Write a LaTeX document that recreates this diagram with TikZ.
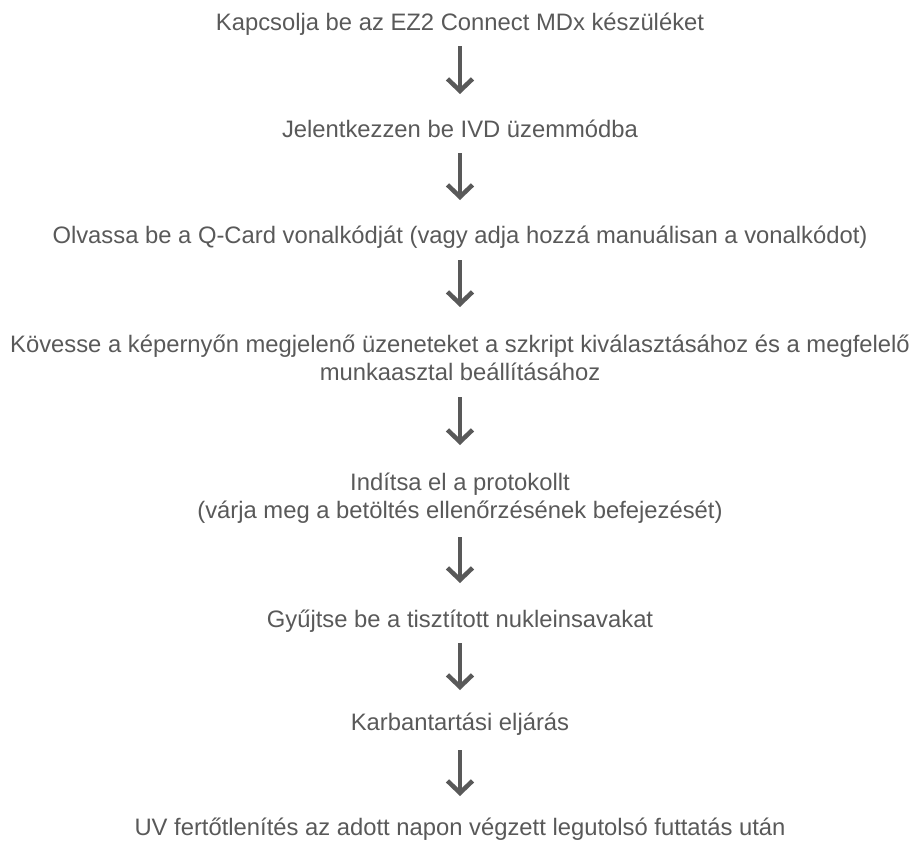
\documentclass[tikz,border=0pt]{standalone}
\usepackage{fontspec}
\setmainfont{Liberation Sans}
\usetikzlibrary{arrows.meta}
\definecolor{stepgray}{HTML}{595959}

\begin{document}
\begin{tikzpicture}[x=1pt, y=-1pt,
        stepnode/.style={anchor=base, align=center, text=stepgray, inner sep=0pt,
            font=\fontsize{23.8}{28}\selectfont},
        flow/.style={draw=stepgray, line width=3.5pt,
            -{Straight Barb[length=12pt, width=25pt, line width=4.5pt, line join=miter]}}]
        \useasboundingbox (0,0) rectangle (919,846);

        % steps
        \node (s1) at (460,30) [stepnode] {Kapcsolja be az EZ2 Connect MDx készüléket};
        \node (s2) at (460,137) [stepnode] {Jelentkezzen be IVD üzemmódba};
        \node (s3) at (460,243) [stepnode] {Olvassa be a Q-Card vonalkódját (vagy adja hozzá manuálisan a vonalkódot)};
        \node (s4) at (460,380) [stepnode] {Kövesse a képernyőn megjelenő üzeneteket a szkript kiválasztásához és a megfelelő\\munkaasztal beállításához};
        \node (s5) at (460,518) [stepnode] {Indítsa el a protokollt\\(várja meg a betöltés ellenőrzésének befejezését)};
        \node (s6) at (460,627) [stepnode] {Gyűjtse be a tisztított nukleinsavakat};
        \node (s7) at (460,730) [stepnode] {Karbantartási eljárás};
        \node (s8) at (460,835) [stepnode] {UV fertőtlenítés az adott napon végzett legutolsó futtatás után};

        % arrows
        \draw[flow] ([yshift=-16pt]s1.base) -- ([yshift=43pt]s2.base);
        \draw[flow] ([yshift=-16pt]s2.base) -- ([yshift=43pt]s3.base);
        \draw[flow] ([yshift=-17pt]s3.base) -- ([yshift=73pt]s4.base);
        \draw[flow] ([yshift=-17pt]s4.base) -- ([yshift=73pt]s5.base);
        \draw[flow] ([yshift=-19pt]s5.base) -- ([yshift=44pt]s6.base);
        \draw[flow] ([yshift=-16pt]s6.base) -- ([yshift=40pt]s7.base);
        \draw[flow] ([yshift=-20pt]s7.base) -- ([yshift=39pt]s8.base);
    \end{tikzpicture}
\end{document}
